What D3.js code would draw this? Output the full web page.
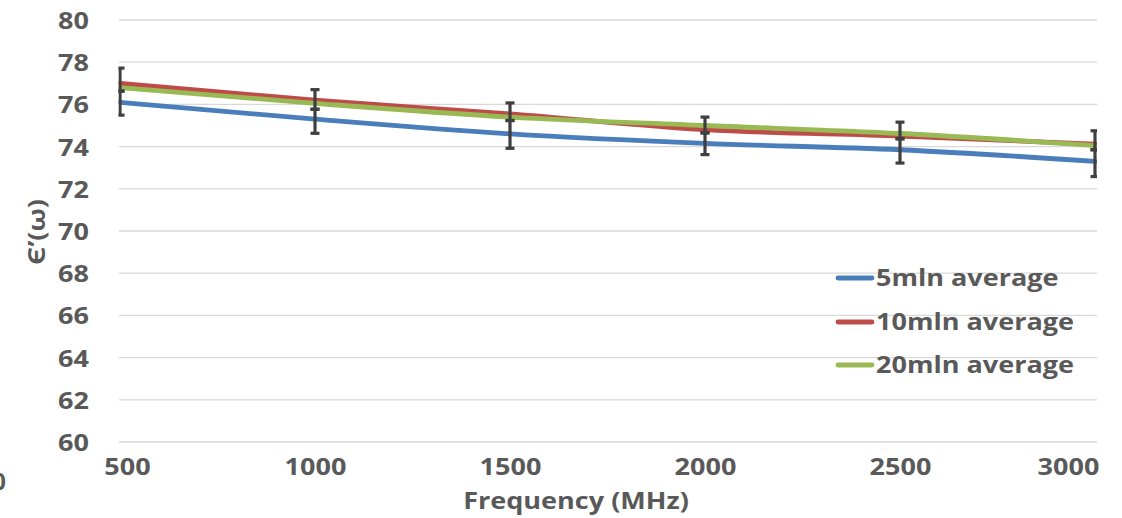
<!DOCTYPE html>
<html>
<head>
<meta charset="utf-8">
<script src="https://cdn.jsdelivr.net/npm/d3@7"></script>
<style>
  html, body { margin: 0; padding: 0; background: #fff; }
  svg { display: block; }
  text { font-family: "Open Sans", sans-serif; font-weight: 700; fill: #595959; }
</style>
</head>
<body>
<svg id="chart" width="1122" height="518"></svg>
<script>
const freqs = [500, 1000, 1500, 2000, 2500, 3000];
const avg5  = [76.1, 75.3, 74.6, 74.15, 73.85, 73.3];
const avg10 = [77.0, 76.2, 75.55, 74.8, 74.5, 74.12];
const avg20 = [76.8, 76.05, 75.4, 75.0, 74.62, 74.05];
const err10Plus  = [0.72, 0.5, 0.52, 0.6, 0.66, 0.63];
const err10Minus = [0.37, 0.43, 0.32, 0.15, 0.13, 0.27];
const err5Plus   = [0.53, 0.47, 0.64, 0.5, 0.52, 0.55];
const err5Minus  = [0.61, 0.67, 0.68, 0.53, 0.63, 0.72];
const yTicks = [60, 62, 64, 66, 68, 70, 72, 74, 76, 78, 80];
const xTicks = [500, 1000, 1500, 2000, 2500, 3000];
const seriesNames = ["5mln average", "10mln average", "20mln average"];
const seriesColors = ["#4a7ebb", "#be4b48", "#98b954"];

const STRETCH = 1.15;
function stretch(sel) {
  sel.each(function () {
    const w = this.getComputedTextLength();
    d3.select(this).attr("textLength", w * STRETCH).attr("lengthAdjust", "spacingAndGlyphs");
  });
}

const svg = d3.select("#chart");
const x = d3.scaleLinear().domain([500, 3000]).range([120, 1095]);
const y = d3.scaleLinear().domain([60, 80]).range([442, 20]);

// gridlines
svg.append("g").selectAll("line").data(yTicks).join("line")
  .attr("x1", 119).attr("x2", 1097)
  .attr("y1", d => y(d)).attr("y2", d => y(d))
  .attr("stroke", "#d9d9d9").attr("stroke-width", 1.3);

// y axis labels
const yAxis = d3.axisLeft(y).tickValues(yTicks).tickSize(0).tickPadding(0);
const gy = svg.append("g").attr("transform", "translate(89,0)").call(yAxis);
gy.select(".domain").remove();
gy.selectAll("text").attr("font-size", 23.5).attr("dy", "0.36em")
  .style("font-family", "'Open Sans', sans-serif").style("font-weight", 700).attr("fill", "#595959")
  .call(stretch);

// x axis labels
const xAxis = d3.axisBottom(x).tickValues(xTicks).tickSize(0).tickPadding(0).tickFormat(d3.format("d"));
const gx = svg.append("g").attr("transform", "translate(0,475)").call(xAxis);
gx.select(".domain").remove();
gx.selectAll("text").attr("font-size", 23.5).attr("dy", 0)
  .style("font-family", "'Open Sans', sans-serif").style("font-weight", 700).attr("fill", "#595959")
  .attr("dx", (d, i) => i === 0 ? 7 : (i === xTicks.length - 1 ? -27 : 0))
  .call(stretch);

// axis titles
svg.append("text").attr("x", 576).attr("y", 509).attr("text-anchor", "middle")
  .attr("font-size", 23.5).text("Frequency (MHz)").call(stretch);
svg.append("text").attr("transform", "translate(45,232) rotate(-90)")
  .attr("text-anchor", "middle").attr("font-size", 23.5).text("Є’(ω)").call(stretch);
svg.append("text").attr("x", 6).attr("y", 490).attr("text-anchor", "end")
  .attr("font-size", 23.5).text("0");

// clip
svg.append("clipPath").attr("id", "plot").append("rect")
  .attr("x", 118.5).attr("y", 0).attr("width", 1097 - 118.5).attr("height", 518);

const plot = svg.append("g").attr("clip-path", "url(#plot)");
const line = d3.line().x((d, i) => x(freqs[i])).y(d => y(d)).curve(d3.curveMonotoneX);
[avg5, avg10, avg20].forEach((s, k) => {
  plot.append("path").datum(s).attr("d", line)
    .attr("fill", "none").attr("stroke", seriesColors[k]).attr("stroke-width", 4.8)
    .attr("stroke-linecap", "round");
});

// error bars
function errBars(vals, plus, minus) {
  const g = plot.append("g").attr("stroke", "#3f3f3f").attr("stroke-width", 3.2).attr("fill", "none");
  freqs.forEach((f, i) => {
    const cx = x(f), top = y(vals[i] + plus[i]), bot = y(vals[i] - minus[i]);
    g.append("line").attr("x1", cx).attr("x2", cx).attr("y1", top).attr("y2", bot);
    g.append("line").attr("x1", cx - 4.5).attr("x2", cx + 4.5).attr("y1", top).attr("y2", top);
    g.append("line").attr("x1", cx - 4.5).attr("x2", cx + 4.5).attr("y1", bot).attr("y2", bot);
  });
}
errBars(avg10, err10Plus, err10Minus);
errBars(avg5, err5Plus, err5Minus);

// legend
const legY = [278, 322, 365];
seriesNames.forEach((n, k) => {
  svg.append("line").attr("x1", 838).attr("x2", 872).attr("y1", legY[k]).attr("y2", legY[k])
    .attr("stroke", seriesColors[k]).attr("stroke-width", 4.8).attr("stroke-linecap", "round");
  svg.append("text").attr("x", 876).attr("y", legY[k]).attr("dy", "0.36em")
    .attr("font-size", 23.5).text(n).call(stretch);
});
</script>
</body>
</html>
